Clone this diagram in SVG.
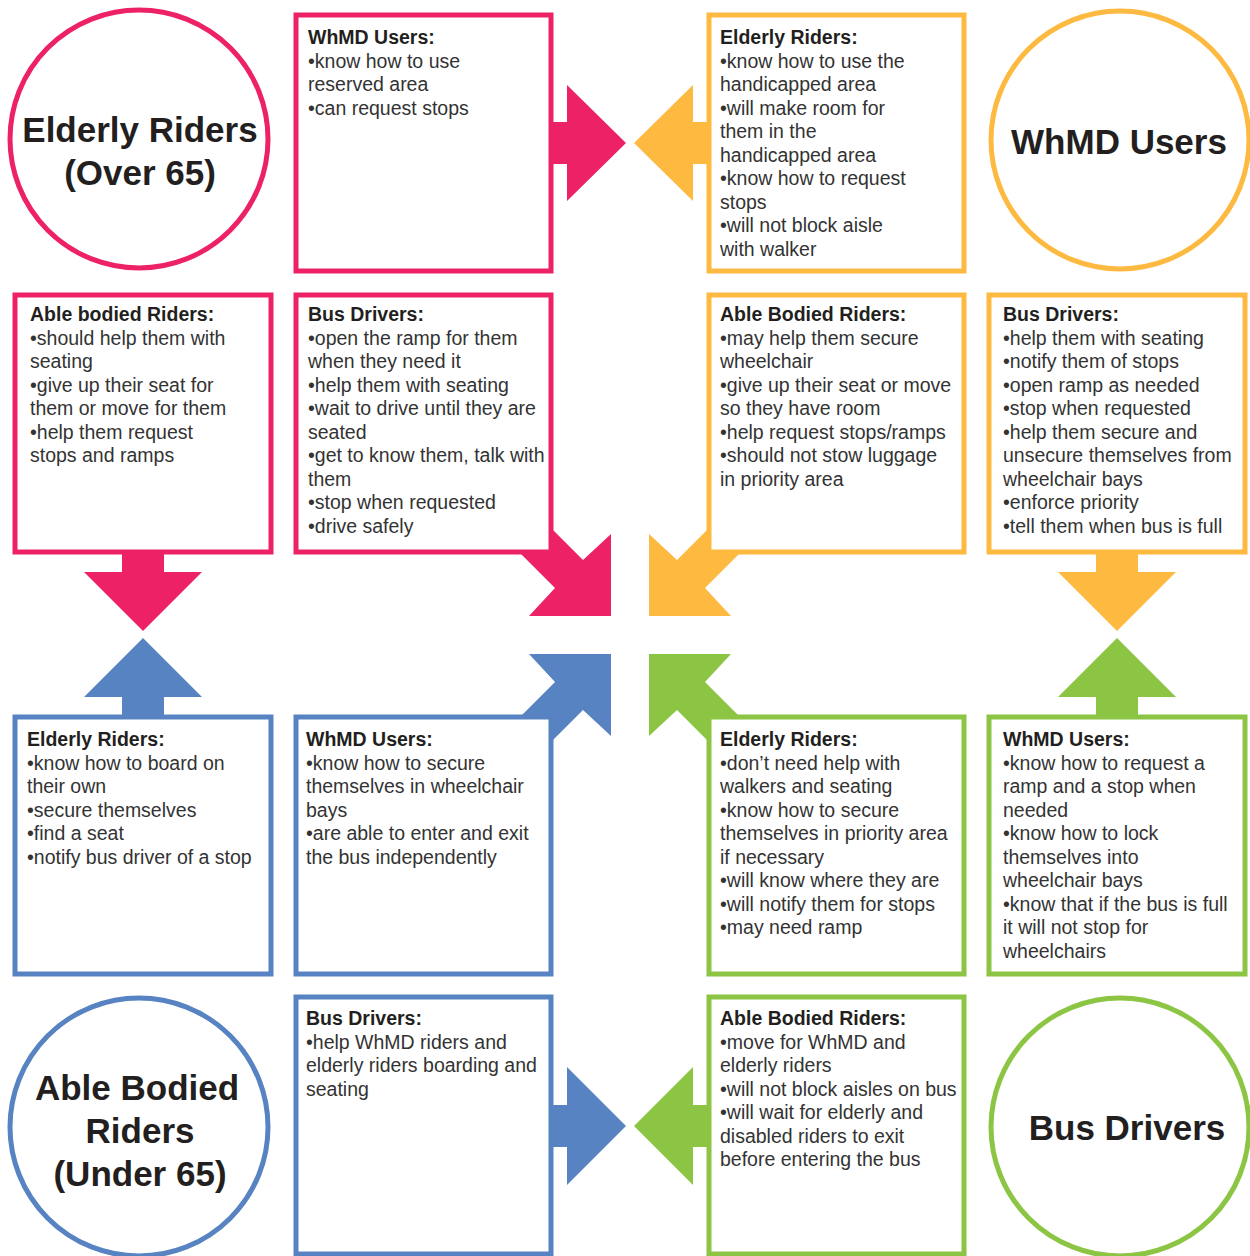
<svg xmlns="http://www.w3.org/2000/svg" width="1250" height="1256" viewBox="0 0 1250 1256">
<style>
.bx{fill:#fff;stroke-width:5}
.ci{fill:#fff;stroke-width:5}
.pk{stroke:#ED2266}
.yl{stroke:#FDB940}
.bl{stroke:#5783C2}
.gr{stroke:#8CC443}
.fpk{fill:#ED2266}
.fyl{fill:#FDB940}
.fbl{fill:#5783C2}
.fgr{fill:#8CC443}
text{font-family:"Liberation Sans",Arial,Helvetica,sans-serif}
.h{font-size:19.5px;font-weight:bold;fill:#231f20}
.t{font-size:19.5px;fill:#333}
.c{font-size:35px;font-weight:bold;fill:#231f20;text-anchor:middle}
</style>
<rect width="1250" height="1256" fill="#fff"/>

<g id="circle-elderly">
<circle class="ci pk" cx="139" cy="139" r="129"/>
<text class="c" x="140" y="142">Elderly Riders</text>
<text class="c" x="140" y="185">(Over 65)</text>
</g>
<g id="circle-whmd">
<circle class="ci yl" cx="1120" cy="140" r="129"/>
<text class="c" x="1119" y="154">WhMD Users</text>
</g>
<g id="circle-able">
<circle class="ci bl" cx="139" cy="1127" r="129"/>
<text class="c" x="137" y="1100">Able Bodied</text>
<text class="c" x="140" y="1143">Riders</text>
<text class="c" x="140" y="1186">(Under 65)</text>
</g>
<g id="circle-drivers">
<circle class="ci gr" cx="1120" cy="1127" r="129"/>
<text class="c" x="1127" y="1140">Bus Drivers</text>
</g>

<g id="box-a">
<rect class="bx pk" x="296" y="15" width="255" height="256"/>
<text class="h" x="308" y="44">WhMD Users:</text>
<text class="t" x="308" y="67.5">•know how to use</text>
<text class="t" x="308" y="91">reserved area</text>
<text class="t" x="308" y="114.5">•can request stops</text>
</g>
<g id="box-b">
<rect class="bx yl" x="709" y="15" width="255" height="256"/>
<text class="h" x="720" y="44">Elderly Riders:</text>
<text class="t" x="720" y="67.5">•know how to use the</text>
<text class="t" x="720" y="91">handicapped area</text>
<text class="t" x="720" y="114.5">•will make room for</text>
<text class="t" x="720" y="138">them in the</text>
<text class="t" x="720" y="161.5">handicapped area</text>
<text class="t" x="720" y="185">•know how to request</text>
<text class="t" x="720" y="208.5">stops</text>
<text class="t" x="720" y="232">•will not block aisle</text>
<text class="t" x="720" y="255.5">with walker</text>
</g>
<g id="box-c">
<rect class="bx pk" x="15" y="295" width="256" height="257"/>
<text class="h" x="30" y="321">Able bodied Riders:</text>
<text class="t" x="30" y="344.5">•should help them with</text>
<text class="t" x="30" y="368">seating</text>
<text class="t" x="30" y="391.5">•give up their seat for</text>
<text class="t" x="30" y="415">them or move for them</text>
<text class="t" x="30" y="438.5">•help them request</text>
<text class="t" x="30" y="462">stops and ramps</text>
</g>
<g id="box-d">
<rect class="bx pk" x="296" y="295" width="255" height="257"/>
<text class="h" x="308" y="321">Bus Drivers:</text>
<text class="t" x="308" y="344.5">•open the ramp for them</text>
<text class="t" x="308" y="368">when they need it</text>
<text class="t" x="308" y="391.5">•help them with seating</text>
<text class="t" x="308" y="415">•wait to drive until they are</text>
<text class="t" x="308" y="438.5">seated</text>
<text class="t" x="308" y="462">•get to know them, talk with</text>
<text class="t" x="308" y="485.5">them</text>
<text class="t" x="308" y="509">•stop when requested</text>
<text class="t" x="308" y="532.5">•drive safely</text>
</g>
<g id="box-e">
<rect class="bx yl" x="709" y="295" width="255" height="257"/>
<text class="h" x="720" y="321">Able Bodied Riders:</text>
<text class="t" x="720" y="344.5">•may help them secure</text>
<text class="t" x="720" y="368">wheelchair</text>
<text class="t" x="720" y="391.5">•give up their seat or move</text>
<text class="t" x="720" y="415">so they have room</text>
<text class="t" x="720" y="438.5">•help request stops/ramps</text>
<text class="t" x="720" y="462">•should not stow luggage</text>
<text class="t" x="720" y="485.5">in priority area</text>
</g>
<g id="box-f">
<rect class="bx yl" x="989" y="295" width="256" height="257"/>
<text class="h" x="1003" y="321">Bus Drivers:</text>
<text class="t" x="1003" y="344.5">•help them with seating</text>
<text class="t" x="1003" y="368">•notify them of stops</text>
<text class="t" x="1003" y="391.5">•open ramp as needed</text>
<text class="t" x="1003" y="415">•stop when requested</text>
<text class="t" x="1003" y="438.5">•help them secure and</text>
<text class="t" x="1003" y="462">unsecure themselves from</text>
<text class="t" x="1003" y="485.5">wheelchair bays</text>
<text class="t" x="1003" y="509">•enforce priority</text>
<text class="t" x="1003" y="532.5">•tell them when bus is full</text>
</g>
<g id="box-g">
<rect class="bx bl" x="15" y="717" width="256" height="257"/>
<text class="h" x="27" y="746">Elderly Riders:</text>
<text class="t" x="27" y="769.5">•know how to board on</text>
<text class="t" x="27" y="793">their own</text>
<text class="t" x="27" y="816.5">•secure themselves</text>
<text class="t" x="27" y="840">•find a seat</text>
<text class="t" x="27" y="863.5">•notify bus driver of a stop</text>
</g>
<g id="box-h">
<rect class="bx bl" x="296" y="717" width="255" height="257"/>
<text class="h" x="306" y="746">WhMD Users:</text>
<text class="t" x="306" y="769.5">•know how to secure</text>
<text class="t" x="306" y="793">themselves in wheelchair</text>
<text class="t" x="306" y="816.5">bays</text>
<text class="t" x="306" y="840">•are able to enter and exit</text>
<text class="t" x="306" y="863.5">the bus independently</text>
</g>
<g id="box-i">
<rect class="bx gr" x="709" y="717" width="255" height="257"/>
<text class="h" x="720" y="746">Elderly Riders:</text>
<text class="t" x="720" y="769.5">•don’t need help with</text>
<text class="t" x="720" y="793">walkers and seating</text>
<text class="t" x="720" y="816.5">•know how to secure</text>
<text class="t" x="720" y="840">themselves in priority area</text>
<text class="t" x="720" y="863.5">if necessary</text>
<text class="t" x="720" y="887">•will know where they are</text>
<text class="t" x="720" y="910.5">•will notify them for stops</text>
<text class="t" x="720" y="934">•may need ramp</text>
</g>
<g id="box-j">
<rect class="bx gr" x="989" y="717" width="256" height="257"/>
<text class="h" x="1003" y="746">WhMD Users:</text>
<text class="t" x="1003" y="769.5">•know how to request a</text>
<text class="t" x="1003" y="793">ramp and a stop when</text>
<text class="t" x="1003" y="816.5">needed</text>
<text class="t" x="1003" y="840">•know how to lock</text>
<text class="t" x="1003" y="863.5">themselves into</text>
<text class="t" x="1003" y="887">wheelchair bays</text>
<text class="t" x="1003" y="910.5">•know that if the bus is full</text>
<text class="t" x="1003" y="934">it will not stop for</text>
<text class="t" x="1003" y="957.5">wheelchairs</text>
</g>
<g id="box-k">
<rect class="bx bl" x="296" y="997" width="255" height="257"/>
<text class="h" x="306" y="1025">Bus Drivers:</text>
<text class="t" x="306" y="1048.5">•help WhMD riders and</text>
<text class="t" x="306" y="1072">elderly riders boarding and</text>
<text class="t" x="306" y="1095.5">seating</text>
</g>
<g id="box-l">
<rect class="bx gr" x="709" y="997" width="255" height="257"/>
<text class="h" x="720" y="1025">Able Bodied Riders:</text>
<text class="t" x="720" y="1048.5">•move for WhMD and</text>
<text class="t" x="720" y="1072">elderly riders</text>
<text class="t" x="720" y="1095.5">•will not block aisles on bus</text>
<text class="t" x="720" y="1119">•will wait for elderly and</text>
<text class="t" x="720" y="1142.5">disabled riders to exit</text>
<text class="t" x="720" y="1166">before entering the bus</text>
</g>

<g id="connectors">
<polygon class="fpk" points="551,122 567,122 567,85 626,143 567,201 567,164 551,164"/>
<polygon class="fyl" points="709,122 693,122 693,85 634,143 693,201 693,164 709,164"/>
<polygon class="fbl" points="551,1105 567,1105 567,1067 626,1126 567,1185 567,1147 551,1147"/>
<polygon class="fgr" points="709,1105 693,1105 693,1067 634,1126 693,1185 693,1147 709,1147"/>
<polygon class="fpk" points="122,552 122,572 84,572 143,631 202,572 164,572 164,552"/>
<polygon class="fbl" points="122,717 122,697 84,697 143,638 202,697 164,697 164,717"/>
<polygon class="fyl" points="1096,552 1096,572 1058,572 1117,631 1176,572 1138,572 1138,552"/>
<polygon class="fgr" points="1096,717 1096,697 1058,697 1117,638 1176,697 1138,697 1138,717"/>
<polygon class="fpk" points="553,530 583,560 611,534 611,616 529,616 555,588 520,553 553,553"/>
<polygon class="fyl" points="707,530 677,560 649,534 649,616 731,616 705,588 740,553 707,553"/>
<polygon class="fbl" points="553,740 583,710 611,736 611,654 529,654 555,682 520,717 553,717"/>
<polygon class="fgr" points="707,740 677,710 649,736 649,654 731,654 705,682 740,717 707,717"/>
</g>
</svg>
